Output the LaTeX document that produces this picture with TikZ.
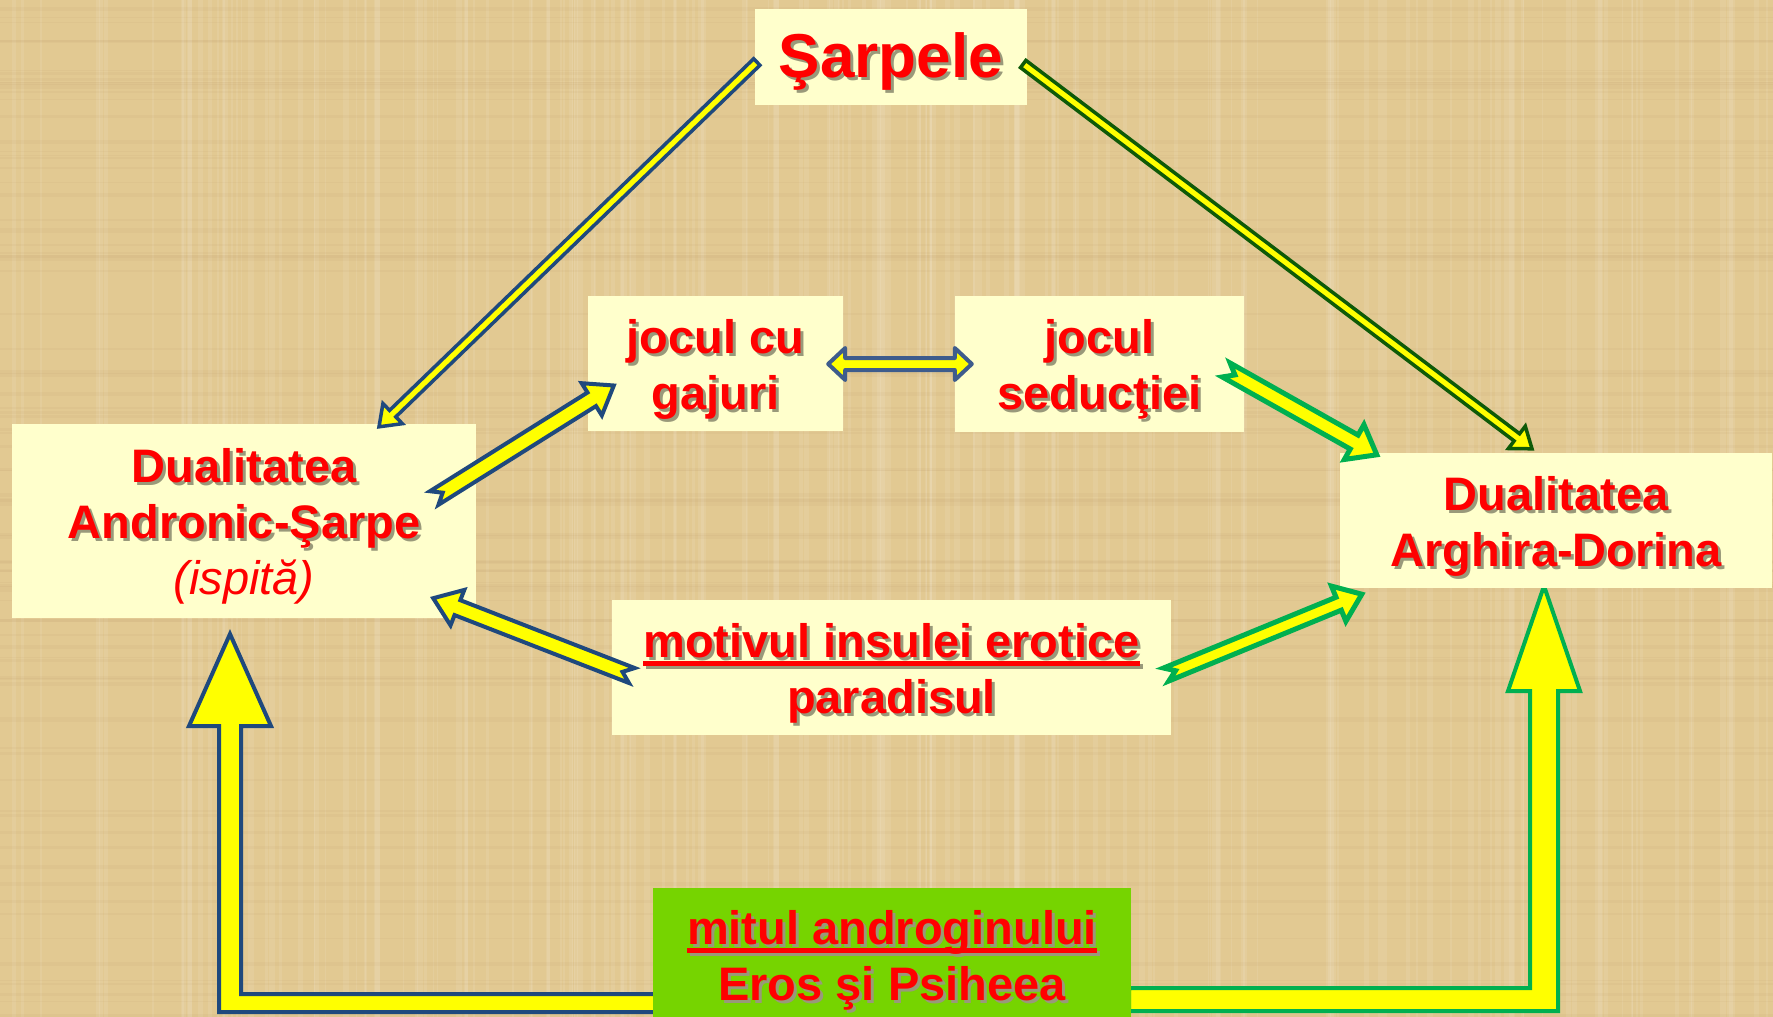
\documentclass[tikz,border=0pt]{standalone}
\usepackage{fontspec}
\setmainfont{Liberation Sans}
\usetikzlibrary{calc}
\definecolor{bg}{RGB}{226,201,146}
\definecolor{boxfill}{RGB}{255,255,204}
\definecolor{txtred}{RGB}{255,0,0}
\definecolor{outblue}{RGB}{31,73,125}
\definecolor{outblue2}{RGB}{62,92,140}
\definecolor{outgreen}{RGB}{0,176,80}
\definecolor{outdkgreen}{RGB}{14,90,8}
\definecolor{arrowyellow}{RGB}{255,255,0}
\definecolor{mythgreen}{RGB}{118,212,0}
\newcommand\sh[1]{\leavevmode\rlap{\kern3pt\raisebox{-3pt}{\color{black!40!boxfill}#1}}#1}
\newsavebox\ulbox
\newcommand\ulred[1]{\sbox\ulbox{#1}\rlap{\rule[-9pt]{\wd\ulbox}{5pt}}\usebox\ulbox}
% block arrow: start, end, half shaft, half head, head length, notch depth, style
\newcommand\barrow[7]{%
  \coordinate (bS) at (#1); \coordinate (bE) at (#2);
  \coordinate (bM) at ($(bE)!#5!(bS)$);
  \coordinate (bN) at ($(bS)!#6!(bE)$);
  \draw[#7] ($(bS)!#3!90:(bE)$) -- ($(bM)!#3!-90:(bS)$) -- ($(bM)!#4!-90:(bS)$)
    -- (bE) -- ($(bM)!#4!90:(bS)$) -- ($(bM)!#3!90:(bS)$)
    -- ($(bS)!#3!-90:(bE)$) -- (bN) -- cycle;}
% double-headed block arrow: start, end, half shaft, half head, head length, style
\newcommand\dbarrow[6]{%
  \coordinate (bS) at (#1); \coordinate (bE) at (#2);
  \coordinate (bM) at ($(bE)!#5!(bS)$);
  \coordinate (bK) at ($(bS)!#5!(bE)$);
  \draw[#6] (bS) -- ($(bK)!#4!90:(bE)$) -- ($(bK)!#3!90:(bE)$)
    -- ($(bM)!#3!-90:(bS)$) -- ($(bM)!#4!-90:(bS)$) -- (bE)
    -- ($(bM)!#4!90:(bS)$) -- ($(bM)!#3!90:(bS)$)
    -- ($(bK)!#3!-90:(bE)$) -- ($(bK)!#4!-90:(bE)$) -- cycle;}
\tikzset{
  box/.style={fill=boxfill, text=txtred, align=center, inner sep=0pt,
    font=\bfseries\fontsize{47}{56}\selectfont},
  bluearrow/.style={draw=outblue, fill=arrowyellow, line width=4pt, line join=miter},
  bluearrowthin/.style={draw=outblue, fill=arrowyellow, line width=3.5pt, line join=miter},
  bluearrowround/.style={draw=outblue2, fill=arrowyellow, line width=4pt, line join=round},
  greenarrow/.style={draw=outgreen, fill=arrowyellow, line width=5pt, line join=miter},
  dkgreenarrow/.style={draw=outdkgreen, fill=arrowyellow, line width=3.5pt, line join=miter},
}
\begin{document}
\begin{tikzpicture}[x=1pt,y=-1pt]
\useasboundingbox (0,0) rectangle (1773,1017);
\fill[bg] (0,0) rectangle (1773,1017);
% papyrus texture
\pgfmathsetseed{42}
\foreach \i in {1,...,180}{
  \pgfmathsetmacro\xx{random(0,1773)}
  \pgfmathsetmacro\ww{random(1,6)}
  \draw[white, opacity=0.09, line width=\ww pt] (\xx,0) -- (\xx,1017);
}
\foreach \i in {1,...,90}{
  \pgfmathsetmacro\yy{random(0,1017)}
  \pgfmathsetmacro\ww{random(1,4)}
  \draw[brown!70!black, opacity=0.04, line width=\ww pt] (0,\yy) -- (1773,\yy);
}
% bent arrows (under the myth box)
\filldraw[draw=outblue, fill=arrowyellow, line width=4pt, line join=miter]
  (655,994) -- (241,994) -- (241,726) -- (271,726) -- (230,634) -- (189,726)
  -- (219,726) -- (219,1012) -- (655,1012) -- cycle;
\filldraw[draw=outgreen, fill=arrowyellow, line width=4pt, line join=miter]
  (1129,988) -- (1530,988) -- (1530,691) -- (1508,691) -- (1544,586) -- (1580,691)
  -- (1558,691) -- (1558,1011) -- (1129,1011) -- cycle;
% nodes (text height = top of box to last baseline)
\node[box, minimum width=272pt, minimum height=96pt, text height=68pt, text depth=28pt,
  font=\bfseries\fontsize{62}{68}\selectfont] (sarp) at (891,57) {\sh{Şarpele}};
\node[box, minimum width=464pt, minimum height=194pt, text height=170pt, text depth=24pt]
  (andr) at (244,521) {\sh{Dualitatea}\\\sh{Andronic-Şarpe}\\{\mdseries\itshape (ispită)}};
\node[box, minimum width=432pt, minimum height=135pt, text height=113pt, text depth=22pt]
  (argh) at (1556,520.5) {\sh{Dualitatea}\\\sh{Arghira-Dorina}};
\node[box, minimum width=255pt, minimum height=135pt, text height=113pt, text depth=22pt]
  (gaj) at (715.5,363.5) {\sh{jocul cu}\\\sh{gajuri}};
\node[box, minimum width=289pt, minimum height=136pt, text height=113pt, text depth=23pt]
  (sed) at (1099.5,364) {\sh{jocul}\\\sh{seducţiei}};
\node[box, minimum width=559pt, minimum height=135pt, text height=113pt, text depth=22pt]
  (mot) at (891.5,667.5) {\sh{\ulred{motivul insulei erotice}}\\\sh{paradisul}};
\node[box, fill=mythgreen, minimum width=478pt, minimum height=132pt, text height=112pt, text depth=20pt]
  (mit) at (892,954) {\sh{\ulred{mitul androginului}}\\\sh{Eros şi Psiheea}};
% straight arrows
\barrow{$(sarp.west)+(2,5)$}{$(andr.north)+(135,3)$}{4.5pt}{14pt}{19pt}{0pt}{bluearrowthin}
\barrow{$(sarp.east)+(-4,7)$}{$(argh.north)+(-24,-4)$}{4.5pt}{14pt}{19pt}{0pt}{dkgreenarrow}
\barrow{$(andr.east)+(-42,-23)$}{$(gaj.west)+(26,22)$}{8pt}{19pt}{26pt}{10pt}{bluearrow}
\dbarrow{$(gaj.east)+(-15,0.5)$}{$(sed.west)+(17,0)$}{6pt}{16pt}{17pt}{bluearrowround}
\barrow{$(sed.east)+(-18,6)$}{$(argh.north west)+(37,2)$}{8pt}{20pt}{26pt}{10pt}{greenarrow}
\barrow{$(mot.west)+(20,8)$}{$(andr.south east)+(-43,-20)$}{8pt}{19pt}{26pt}{10pt}{bluearrow}
\barrow{$(mot.east)+(-5,7)$}{$(argh.south west)+(22,6)$}{7pt}{19pt}{25pt}{10pt}{greenarrow}
\end{tikzpicture}
\end{document}
